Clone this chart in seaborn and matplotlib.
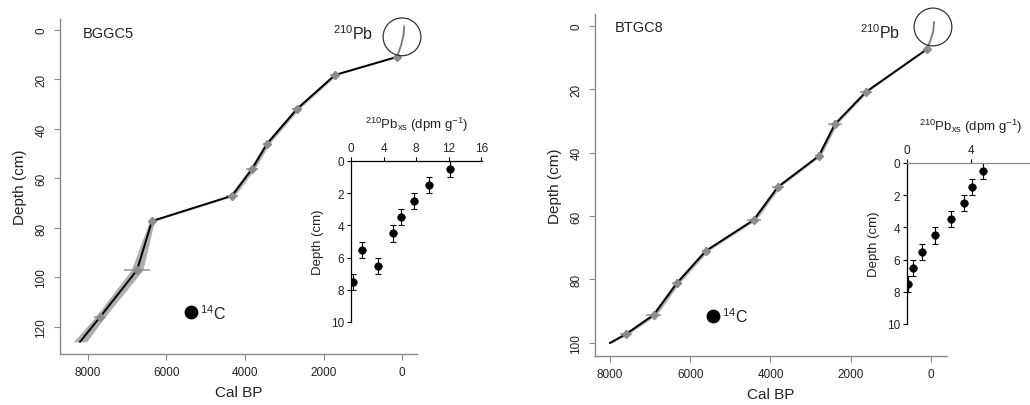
import matplotlib
matplotlib.use("Agg")
import matplotlib.pyplot as plt
import seaborn as sns
import pandas as pd

# ---------------- data ----------------
# BGGC5 age-depth model (Cal BP vs depth cm)
bggc5_age = [127, 1707, 2675, 3439, 3822, 4331, 6370, 6750, 7694, 8204]
bggc5_depth = [10.9, 18.2, 31.9, 46.0, 56.2, 67.0, 77.2, 97.0, 116.0, 126.0]
bggc5_band = [40, 50, 60, 60, 70, 70, 60, 150, 120, 170]
bggc5_date_age = [127, 1707, 2675, 3439, 3822, 4331, 6370, 6750, 7694]
bggc5_date_depth = [10.9, 18.2, 31.9, 46.0, 56.2, 67.0, 77.2, 97.0, 116.0]
bggc5_date_err = [80, 120, 120, 100, 150, 150, 80, 330, 150]
bggc5_pb_age = [-55, -40, 20, 127]
bggc5_pb_depth = [-1.5, 2.0, 6.0, 10.9]

# BTGC8 age-depth model
btgc8_age = [100, 1620, 2394, 2793, 3815, 4414, 5611, 6334, 6908, 7606, 8005]
btgc8_depth = [7.3, 20.8, 31.0, 41.0, 50.8, 61.2, 71.0, 81.2, 91.2, 97.3, 100.1]
btgc8_band = [20, 40, 50, 50, 50, 60, 60, 60, 70, 60, 50]
btgc8_date_age = [100, 1620, 2394, 2793, 3815, 4414, 5611, 6334, 6908, 7606]
btgc8_date_depth = [7.3, 20.8, 31.0, 41.0, 50.8, 61.2, 71.0, 81.2, 91.2, 97.3]
btgc8_date_err = [60, 150, 180, 100, 150, 170, 100, 120, 190, 150]
btgc8_pb_age = [-75, -60, 10, 100]
btgc8_pb_depth = [-1.3, 1.5, 4.5, 7.3]

# 210Pb excess profiles (insets)
pb_mid_depth = [0.5, 1.5, 2.5, 3.5, 4.5, 5.5, 6.5, 7.5]
bggc5_pbxs = [12.2, 9.6, 7.8, 6.1, 5.2, 1.4, 3.3, 0.3]
btgc8_pbxs = [4.75, 4.06, 3.56, 2.75, 1.75, 0.94, 0.38, 0.06]
pb_depth_err = [0.5] * 8

# annotations (data coords)
bggc5_circle = (0, 2.8)
btgc8_circle = (-50, 0.3)

W, H = 1030, 406

sns.set_theme(style="ticks")
plt.rcParams["font.family"] = ["Liberation Sans", "DejaVu Sans"]
plt.rcParams["mathtext.fontset"] = "custom"
plt.rcParams["mathtext.rm"] = "Liberation Sans"
plt.rcParams["mathtext.it"] = "Liberation Sans"

fig = plt.figure(figsize=(W / 100, H / 100), dpi=100)


def px_axes(x0, x1, ytop, ybot):
    return fig.add_axes([x0 / W, (H - ybot) / H, (x1 - x0) / W, (ybot - ytop) / H])


GRAY = "#8a8a8a"
TXT = "#222222"


def main_panel(ax, age, depth, band, dage, ddepth, derr, pbage, pbdepth,
               xlim, ylim, yticks, name, name_pos, pb_pos, c_pos, circ):
    lo = [a - b for a, b in zip(age, band)]
    hi = [a + b for a, b in zip(age, band)]
    ax.fill_betweenx(depth, lo, hi, color="#9a9a9a", alpha=0.8, lw=0)
    ax.errorbar(dage, ddepth, xerr=derr, yerr=1.3, fmt="D", ms=4,
                color="#8c8c8c", ecolor="#9a9a9a", elinewidth=1.2, capsize=0)
    sns.lineplot(x=pbage, y=pbdepth, sort=False, estimator=None, ax=ax,
                 color="#777777", lw=1.3)
    sns.lineplot(x=age, y=depth, sort=False, estimator=None, ax=ax,
                 color="black", lw=1.4)
    ax.scatter([circ[0]], [circ[1]], s=740, facecolors="none",
               edgecolors="#333333", lw=0.9, zorder=5, clip_on=False)
    ax.scatter([c_pos[0]], [c_pos[1]], s=80, color="black", zorder=5)
    ax.text(c_pos[0] - 230, c_pos[1], "$^{14}$C", fontsize=11.5, ha="left",
            va="center", color=TXT)
    ax.text(pb_pos[0], pb_pos[1], "$^{210}$Pb", fontsize=11.5, ha="center",
            va="center", color=TXT)
    ax.text(name_pos[0], name_pos[1], name, fontsize=10.5, ha="left",
            va="center", color=TXT)
    ax.set_xlim(*xlim)
    ax.set_ylim(*ylim)
    ax.set_xticks([8000, 6000, 4000, 2000, 0])
    ax.set_yticks(yticks)
    ax.set_xticklabels([str(t) for t in [8000, 6000, 4000, 2000, 0]])
    ax.set_yticklabels([str(t) for t in yticks], rotation=90, va="center")
    for s in ["top", "right"]:
        ax.spines[s].set_visible(False)
    for s in ["left", "bottom"]:
        ax.spines[s].set_color(GRAY)
        ax.spines[s].set_linewidth(1.0)
    ax.tick_params(axis="both", colors=GRAY, labelcolor=TXT, labelsize=8.5,
                   length=4, width=0.8, pad=5)
    ax.set_xlabel("Cal BP", fontsize=11, color=TXT, labelpad=5)
    ax.set_ylabel("Depth (cm)", fontsize=11, color=TXT, labelpad=6)
    ax.set_facecolor("white")


def inset(ax, vals, xlim, xticks, top_color):
    ax.errorbar(vals, pb_mid_depth, yerr=pb_depth_err, fmt="none",
                ecolor="black", elinewidth=0.8, capsize=2, capthick=0.8)
    sns.scatterplot(x=vals, y=pb_mid_depth, ax=ax, color="black", s=30,
                    edgecolor="black", zorder=5)
    ax.set_xlim(*xlim)
    ax.set_ylim(10, 0)
    ax.set_xticks(xticks)
    ax.set_yticks([0, 2, 4, 6, 8, 10])
    ax.xaxis.tick_top()
    ax.xaxis.set_label_position("top")
    for s in ["bottom", "right"]:
        ax.spines[s].set_visible(False)
    ax.spines["left"].set_color("black")
    ax.spines["top"].set_color(top_color)
    ax.spines["left"].set_linewidth(0.9)
    ax.spines["top"].set_linewidth(0.9)
    ax.tick_params(axis="both", colors="black", labelcolor=TXT, labelsize=8.5,
                   length=3, width=0.8, pad=2)
    ax.set_xlabel("$^{210}$Pb$_{xs}$ (dpm g$^{-1}$)", fontsize=9.5,
                  color=TXT, labelpad=10)
    ax.set_ylabel("Depth (cm)", fontsize=9.5, color=TXT, labelpad=5)
    ax.set_facecolor("none")


ax1 = px_axes(60, 417, 20, 355)
main_panel(ax1, bggc5_age, bggc5_depth, bggc5_band, bggc5_date_age,
           bggc5_date_depth, bggc5_date_err, bggc5_pb_age, bggc5_pb_depth,
           (8713, -382), (130.9, -4.4), [0, 20, 40, 60, 80, 100, 120],
           "BGGC5", (8127, 1.2), (1248, 1.2), (5375, 114), bggc5_circle)

ax2 = px_axes(595, 947, 15, 357)
main_panel(ax2, btgc8_age, btgc8_depth, btgc8_band, btgc8_date_age,
           btgc8_date_depth, btgc8_date_err, btgc8_pb_age, btgc8_pb_depth,
           (8374, -400), (104.2, -3.8), [0, 20, 40, 60, 80, 100],
           "BTGC8", (7880, 0.3), (1272, 1.9), (5436, 91.6), btgc8_circle)

ax3 = px_axes(351, 482, 162, 323)
inset(ax3, bggc5_pbxs, (0, 16.1), [0, 4, 8, 12, 16], "black")

ax4 = px_axes(907, 1035, 164, 325)
inset(ax4, btgc8_pbxs, (0, 8), [0, 4], GRAY)

fig.savefig("out.png", dpi=100, facecolor="white")
